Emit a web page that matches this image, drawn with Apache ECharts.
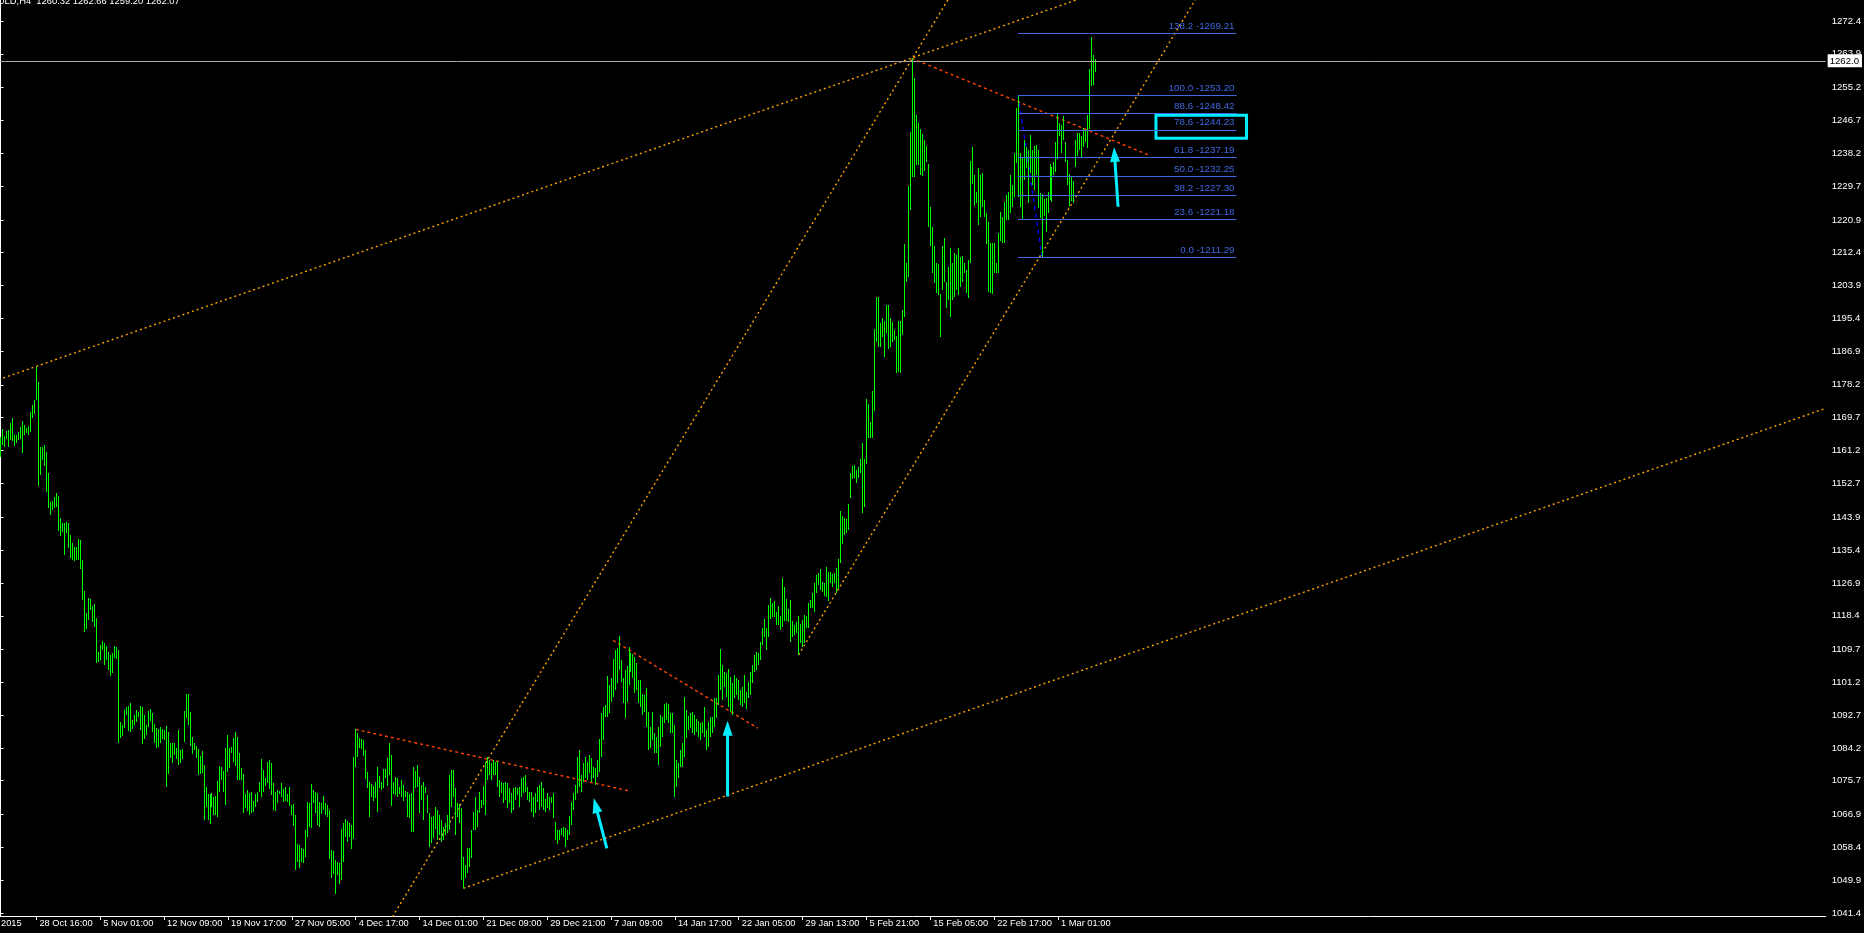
<!DOCTYPE html>
<html><head><meta charset="utf-8">
<script src="https://cdn.jsdelivr.net/npm/echarts@6/dist/echarts.min.js"></script>
<style>html,body{margin:0;padding:0;background:#000;overflow:hidden}#c{width:1864px;height:933px}</style>
</head><body><div id="c"></div>
<script>
// ---- H4 bars (high / low), bar index 0..549 ----
const highs = [
1164.6,1166.8,1164.9,1166.2,1166.5,1168.3,1169.6,1165.2,1165.2,1166.0,
1167.3,1168.8,1167.8,1167.1,1167.5,1171.2,1173.0,1174.4,1182.7,1179.0,
1162.2,1162.2,1162.6,1160.8,1155.3,1147.9,1148.1,1149.2,1150.1,1149.4,
1143.6,1142.3,1142.3,1142.8,1142.3,1139.3,1137.3,1136.3,1136.3,1138.2,
1138.0,1132.9,1124.8,1119.0,1122.9,1122.7,1120.9,1121.5,1117.8,1109.1,
1110.8,1111.9,1111.3,1110.7,1109.1,1108.2,1108.8,1110.6,1110.4,1109.5,
1091.0,1090.1,1094.0,1094.9,1095.1,1095.8,1091.4,1092.7,1094.0,1093.6,
1095.0,1094.7,1092.7,1090.1,1093.7,1094.3,1093.2,1090.4,1089.3,1089.0,
1089.5,1089.1,1088.8,1089.9,1088.4,1085.5,1085.4,1085.4,1084.1,1088.8,
1083.7,1083.8,1093.8,1098.2,1098.2,1093.6,1087.0,1085.5,1084.7,1083.9,
1082.1,1083.4,1079.7,1074.2,1072.3,1072.3,1072.6,1071.6,1071.7,1075.7,
1079.5,1079.3,1078.2,1084.3,1087.5,1084.1,1084.5,1086.8,1088.3,1087.0,
1082.8,1079.0,1077.4,1072.3,1073.3,1072.6,1072.9,1070.4,1072.3,1072.8,
1075.4,1081.3,1078.5,1076.3,1080.6,1081.1,1080.4,1075.0,1072.9,1073.3,
1073.1,1075.0,1073.6,1074.2,1072.3,1074.1,1069.4,1069.7,1066.8,1059.3,
1059.1,1058.2,1057.9,1062.9,1070.2,1070.0,1074.9,1073.3,1072.9,1072.4,
1070.3,1069.9,1071.8,1069.9,1069.4,1068.1,1057.8,1057.4,1055.2,1054.7,
1054.3,1063.2,1064.8,1065.8,1065.4,1064.7,1064.2,1081.9,1089.0,1088.0,
1086.7,1086.4,1086.2,1083.7,1078.0,1075.5,1074.9,1074.3,1075.5,1079.3,
1076.9,1075.5,1078.7,1078.7,1081.5,1085.4,1082.3,1075.3,1076.7,1076.4,
1074.2,1075.9,1074.6,1073.0,1072.9,1072.3,1072.4,1079.3,1078.2,1079.8,
1076.7,1074.6,1075.5,1074.2,1072.0,1067.3,1066.4,1066.6,1068.8,1068.1,
1066.8,1065.5,1063.8,1064.7,1066.8,1077.2,1078.5,1078.5,1073.7,1069.9,
1069.7,1068.6,1056.0,1053.9,1058.2,1058.4,1062.9,1067.7,1071.6,1068.1,
1072.9,1070.7,1074.3,1080.6,1081.9,1081.1,1080.2,1081.1,1080.6,1080.9,
1075.9,1075.5,1075.0,1075.5,1075.2,1073.7,1072.4,1073.7,1074.2,1073.7,
1074.2,1076.3,1076.7,1077.2,1074.2,1072.9,1072.9,1071.6,1072.4,1074.2,
1074.6,1075.5,1073.7,1071.1,1072.4,1071.4,1071.6,1072.6,1065.1,1062.9,
1062.9,1063.4,1063.8,1063.4,1062.9,1066.6,1070.3,1072.6,1074.6,1081.9,
1083.7,1077.2,1080.2,1081.9,1080.6,1082.3,1081.5,1079.3,1078.9,1081.1,
1086.4,1093.2,1094.9,1095.3,1102.8,1100.5,1102.2,1107.1,1109.5,1110.1,
1113.2,1106.9,1102.2,1104.4,1105.4,1110.4,1108.8,1108.5,1107.8,1106.3,
1101.9,1101.8,1098.1,1097.9,1099.6,1093.6,1089.7,1093.6,1088.0,1087.1,
1089.7,1092.7,1092.3,1095.6,1095.7,1095.6,1093.2,1093.2,1090.1,1081.1,
1080.2,1083.7,1085.4,1097.5,1094.0,1092.5,1093.2,1093.6,1092.7,1091.6,
1091.2,1090.7,1091.0,1094.9,1088.8,1091.0,1092.3,1092.1,1097.0,1097.0,
1103.1,1109.7,1105.7,1103.9,1103.7,1104.5,1102.6,1100.9,1103.1,1102.2,
1101.8,1099.2,1100.0,1103.1,1098.7,1101.3,1103.9,1105.7,1108.3,1109.1,
1108.7,1111.7,1115.2,1117.7,1115.2,1121.2,1122.9,1121.8,1122.2,1119.5,
1120.9,1118.4,1128.1,1125.8,1122.8,1120.1,1122.5,1117.1,1116.0,1116.9,
1118.4,1116.3,1117.3,1118.6,1118.4,1121.6,1122.5,1124.2,1127.0,1129.0,
1129.6,1130.4,1127.2,1126.8,1131.1,1129.8,1129.8,1129.2,1129.6,1130.7,
1133.0,1145.6,1144.2,1143.6,1143.4,1147.3,1155.3,1157.2,1157.4,1156.2,
1156.9,1158.9,1163.1,1159.0,1174.5,1173.2,1168.6,1176.7,1192.6,1200.9,
1201.0,1194.3,1195.4,1194.8,1198.9,1198.9,1195.4,1194.5,1192.4,1190.8,
1194.8,1194.8,1197.7,1214.7,1209.8,1229.7,1243.7,1262.7,1257.6,1248.1,
1245.9,1244.4,1243.1,1241.6,1240.0,1235.4,1224.2,1219.1,1214.1,1209.7,
1209.5,1201.7,1214.1,1216.3,1204.9,1208.8,1213.5,1209.8,1212.2,1211.8,
1213.5,1211.4,1211.5,1209.8,1207.9,1210.5,1236.2,1239.7,1232.5,1228.2,
1234.3,1232.5,1233.1,1226.1,1222.6,1220.3,1214.8,1215.0,1215.0,1209.7,
1217.4,1223.0,1221.7,1225.6,1227.3,1228.2,1232.5,1229.9,1238.1,1249.8,
1253.2,1238.1,1236.8,1241.6,1239.8,1239.0,1242.9,1239.0,1240.0,1240.3,
1239.0,1227.8,1227.6,1226.2,1226.5,1228.2,1235.4,1234.7,1236.0,1241.1,
1248.6,1245.9,1245.5,1247.8,1241.1,1236.4,1232.8,1232.1,1231.0,1241.6,
1243.5,1243.3,1242.6,1244.6,1244.2,1248.1,1259.9,1268.3,1263.6,1262.66
];
const lows = [
1159.6,1162.6,1162.2,1164.2,1162.2,1163.9,1163.7,1162.4,1163.1,1163.9,
1164.2,1160.6,1165.2,1165.6,1165.2,1166.1,1169.6,1170.6,1174.3,1152.0,
1154.9,1158.7,1157.2,1150.5,1146.2,1144.5,1145.8,1146.2,1146.6,1140.4,
1139.1,1140.2,1134.1,1139.8,1135.9,1133.3,1132.9,1132.7,1132.9,1132.9,
1130.5,1122.5,1114.3,1114.9,1117.3,1119.9,1116.9,1115.6,1106.3,1106.5,
1107.0,1109.5,1105.6,1107.0,1104.4,1102.9,1103.5,1107.4,1107.2,1085.5,
1086.7,1087.3,1089.3,1092.7,1088.6,1088.4,1089.0,1090.1,1091.0,1092.3,
1088.8,1085.2,1086.5,1087.5,1089.7,1091.2,1088.4,1085.4,1084.3,1084.4,
1085.5,1086.5,1086.2,1074.2,1077.4,1081.7,1080.4,1082.3,1081.3,1079.8,
1080.4,1081.3,1085.8,1092.0,1090.1,1084.7,1082.7,1083.7,1081.7,1077.2,
1077.4,1077.8,1065.5,1069.0,1065.5,1064.6,1069.0,1066.8,1066.8,1066.2,
1072.9,1075.9,1072.9,1069.5,1078.0,1078.9,1082.8,1080.6,1079.5,1075.9,
1075.9,1075.9,1067.4,1068.6,1067.9,1066.8,1067.3,1067.6,1069.0,1070.3,
1072.9,1071.6,1072.9,1074.3,1075.2,1073.6,1072.0,1068.1,1067.9,1069.9,
1072.3,1071.6,1070.3,1070.5,1070.3,1069.2,1066.8,1064.1,1052.6,1054.7,
1053.2,1054.7,1054.5,1056.0,1061.2,1063.6,1063.4,1069.9,1067.4,1064.2,
1063.8,1067.1,1068.1,1066.8,1066.2,1055.4,1050.6,1051.5,1046.4,1051.3,
1048.9,1050.0,1054.7,1061.2,1059.9,1061.2,1058.0,1060.6,1079.3,1081.9,
1084.1,1083.8,1082.2,1076.1,1073.9,1066.4,1071.6,1070.5,1071.2,1067.7,
1073.9,1073.3,1073.9,1076.5,1074.4,1077.2,1069.2,1072.3,1071.9,1071.6,
1072.3,1071.6,1070.5,1071.4,1066.4,1066.0,1062.5,1062.5,1073.7,1074.0,
1067.3,1070.7,1065.5,1072.4,1067.3,1058.6,1059.5,1060.8,1063.1,1060.4,
1061.6,1059.9,1060.4,1061.6,1062.1,1062.9,1069.0,1071.6,1061.6,1066.4,
1064.8,1050.0,1047.8,1050.4,1051.7,1053.4,1055.6,1062.9,1062.9,1063.8,
1067.3,1068.6,1069.4,1066.8,1075.9,1077.2,1075.9,1077.2,1077.2,1074.2,
1071.6,1072.4,1069.9,1070.7,1068.6,1069.9,1067.3,1068.1,1070.7,1072.0,
1069.0,1071.6,1072.4,1072.9,1070.7,1070.3,1067.7,1066.4,1067.3,1070.3,
1068.1,1069.0,1068.1,1067.7,1068.6,1068.1,1069.9,1066.0,1060.4,1059.3,
1060.4,1061.6,1061.2,1058.5,1060.4,1061.6,1064.2,1068.1,1070.7,1072.4,
1074.2,1072.9,1075.5,1076.3,1075.9,1077.6,1075.5,1076.3,1074.6,1076.7,
1078.0,1081.9,1086.2,1092.3,1092.3,1093.2,1096.2,1097.5,1099.2,1101.1,
1104.4,1101.3,1095.7,1091.9,1096.2,1100.5,1103.9,1102.2,1098.3,1099.2,
1095.7,1094.9,1092.7,1093.6,1089.7,1083.7,1084.1,1086.2,1082.8,1082.8,
1079.8,1084.5,1087.1,1090.6,1091.4,1090.6,1088.0,1088.0,1071.6,1074.2,
1076.3,1079.3,1079.3,1081.9,1086.7,1088.8,1089.3,1088.0,1087.5,1088.4,
1087.1,1086.2,1088.0,1087.1,1083.7,1084.5,1086.9,1088.0,1089.7,1091.9,
1095.3,1099.2,1096.6,1100.0,1097.5,1094.9,1093.6,1092.7,1097.0,1097.9,
1096.6,1095.3,1094.9,1095.7,1094.4,1097.0,1097.9,1100.9,1103.9,1104.4,
1105.7,1107.0,1110.8,1113.0,1109.5,1113.0,1117.7,1118.0,1118.2,1116.0,
1116.0,1114.7,1115.6,1117.1,1117.1,1116.9,1111.7,1113.0,1113.4,1114.0,
1108.3,1111.3,1110.4,1111.3,1115.2,1115.2,1120.3,1120.3,1119.5,1124.2,
1126.4,1125.1,1124.6,1123.5,1123.3,1122.3,1126.8,1125.8,1127.0,1124.4,
1125.3,1132.1,1137.0,1139.3,1139.8,1140.6,1148.8,1153.7,1154.0,1152.9,
1154.0,1155.3,1145.1,1146.5,1157.6,1164.4,1164.4,1164.4,1171.5,1189.4,
1188.1,1188.1,1190.7,1185.5,1191.5,1187.4,1188.1,1189.4,1189.8,1181.3,
1181.6,1181.3,1191.1,1195.7,1204.9,1206.2,1223.5,1231.9,1232.1,1235.1,
1235.1,1232.5,1232.3,1233.6,1236.0,1219.0,1214.1,1207.2,1204.6,1202.0,
1201.5,1190.7,1202.8,1204.9,1198.0,1200.2,1195.7,1200.2,1201.0,1202.7,
1201.5,1203.6,1204.9,1207.1,1202.0,1200.6,1209.8,1230.2,1224.5,1225.2,
1219.6,1221.7,1224.3,1221.7,1214.7,1202.3,1202.0,1201.7,1207.1,1207.1,
1207.1,1215.5,1214.8,1214.8,1220.9,1220.9,1222.6,1224.3,1226.9,1235.6,
1226.9,1224.3,1221.1,1231.2,1234.3,1225.4,1233.0,1229.9,1228.6,1232.5,
1223.9,1221.3,1211.29,1221.9,1217.8,1222.8,1226.1,1225.6,1232.5,1233.4,
1236.6,1242.6,1238.3,1241.6,1236.0,1229.9,1224.5,1225.9,1225.2,1234.7,
1237.4,1239.0,1237.1,1239.8,1241.1,1239.4,1244.4,1255.6,1255.8,1259.2
];

// ---- axis tick labels ----
const xTickLabels = ["28 Oct 16:00","5 Nov 01:00","12 Nov 09:00","19 Nov 17:00","27 Nov 05:00",
  "4 Dec 17:00","14 Dec 01:00","21 Dec 09:00","29 Dec 21:00","7 Jan 09:00","14 Jan 17:00",
  "22 Jan 05:00","29 Jan 13:00","5 Feb 21:00","15 Feb 05:00","22 Feb 17:00","1 Mar 01:00"];
const firstTickBar = 18, barsPerTick = 32;
const yTickLabels = [1272.4,1263.9,1255.2,1246.7,1238.2,1229.7,1220.9,1212.4,1203.9,1195.4,1186.9,
  1178.2,1169.7,1161.2,1152.7,1143.9,1135.4,1126.9,1118.4,1109.7,1101.2,1092.7,1084.2,1075.7,
  1066.9,1058.4,1049.9,1041.4];

// ---- header quote ----
const symbolName = "GOLD,H4";
const lastOHLC = [1260.32, 1262.66, 1259.20, 1262.07];

// ---- drawing objects (bar index, price) ----
const channelUpper = [[-1, 1179.53], [600, 1288.9]];
const channelLower = [[232, 1047.85], [915, 1172.16]];
const steepUpper = [[190, 1034.95], [480, 1282.3]];
const steepLower = [[400, 1108.3], [600, 1278.9]];
const redLineA = [[178, 1089.0], [314.75, 1073.1]];
const redLineB = [[307, 1112.06], [379.6, 1089.3]];
const redLineC = [[456.7, 1262.74], [575.4, 1237.7]];
const fibLevels = ["138.2","100.0","88.6","78.6","61.8","50.0","38.2","23.6","0.0"];
const fibPrices = [1269.21,1253.20,1248.42,1244.23,1237.19,1232.25,1227.30,1221.18,1211.29];
const fibSpan = [510, 619.5];
const fibTrend = [[510, 1253.20], [522, 1211.29]];
const arrows = [[303.9, 1058.2, 297.3, 1071.2], [364.4, 1071.6, 364.4, 1091.2], [560.1, 1224.3, 558.1, 1239.8]];
const highlightBox = [[579.1, 1248.0], [624.5, 1242.05]];

const FONT = "'Liberation Sans', Arial, sans-serif";
const CYAN = '#00eeff', ORANGE = '#ffa500', RED = '#ff4500', FIB = '#4169e1', GREEN = '#00ff00';

const tickBars = xTickLabels.map((_, k) => firstTickBar + k * barsPerTick);
const tickLabelOf = {};
tickBars.forEach((b, k) => { tickLabelOf[b] = xTickLabels[k]; });

function trend(data, color, dash) {
  return { type: 'line', data: data, showSymbol: false, symbol: 'none', silent: true, clip: true,
    lineStyle: { color: color, width: 1.4, type: dash }, z: 3, animation: false };
}

const chart = echarts.init(document.getElementById('c'), null, { renderer: 'canvas' });
chart.setOption({
  backgroundColor: '#000',
  animation: false,
  grid: { left: 0, right: 34, top: 0, bottom: 17 },
  xAxis: {
    type: 'value', min: -0.25, max: 914.75,
    axisLine: { show: true, onZero: false, lineStyle: { color: '#fff', width: 1 } },
    axisTick: { show: true, customValues: tickBars, length: 4, lineStyle: { color: '#fff' } },
    axisLabel: { customValues: tickBars, formatter: v => tickLabelOf[Math.round(v)] || '', align: 'left',
      margin: 3, padding: [0, 0, 0, 3], color: '#fff', fontSize: 9.3, fontFamily: FONT },
    splitLine: { show: false }
  },
  yAxis: {
    type: 'value', position: 'right', min: 1040.68, max: 1277.83,
    axisLine: { show: true, lineStyle: { color: '#fff', width: 1 } },
    axisTick: { show: true, customValues: yTickLabels, length: 3, lineStyle: { color: '#fff' } },
    axisLabel: { customValues: yTickLabels, formatter: v => v.toFixed(1), margin: 6, color: '#fff',
      fontSize: 9.6, fontFamily: FONT },
    splitLine: { show: false }
  },
  graphic: [
    { type: 'text', left: -10, top: -3, z: 10, silent: true,
      style: { text: symbolName + '  ' + lastOHLC.map(v => v.toFixed(2)).join(' '), fill: '#fff', font: '9.4px ' + FONT } },
    { type: 'text', left: 1, top: 919, z: 10, silent: true,
      style: { text: '2015', fill: '#fff', font: '9.3px ' + FONT } }
  ],
  series: [
    {
      type: 'custom', name: 'bars', clip: true, silent: true, z: 4,
      data: highs.map((h, i) => [i, h, lows[i]]),
      encode: { x: 0, y: [1, 2] },
      renderItem: (params, api) => {
        const i = api.value(0);
        const a = api.coord([i, api.value(1)]);
        const b = api.coord([i, api.value(2)]);
        const x = Math.round(a[0] - 0.5);
        const y1 = Math.round(a[1]);
        const y2 = Math.max(Math.round(b[1]), y1 + 1);
        return { type: 'rect', shape: { x: x, y: y1, width: 1, height: y2 - y1 }, style: { fill: GREEN } };
      },
      markLine: {
        silent: true, symbol: 'none', animation: false,
        lineStyle: { color: '#a8a8a8', type: 'solid', width: 1 },
        label: { show: true, position: 'end', distance: 2, formatter: () => lastOHLC[3].toFixed(2).slice(0, -1),
          backgroundColor: '#fff', color: '#000', padding: [2, 3, 1, 2], fontSize: 9.6, fontFamily: FONT },
        data: [{ yAxis: lastOHLC[3] }]
      }
    },
    trend(channelUpper, ORANGE, [2, 3]),
    trend(channelLower, ORANGE, [2, 3]),
    trend(steepUpper, ORANGE, [2, 3]),
    trend(steepLower, ORANGE, [2, 3]),
    trend(redLineA, RED, [3, 3]),
    trend(redLineB, RED, [3, 3]),
    trend(redLineC, RED, [3, 3]),
    Object.assign(trend(fibTrend, '#0000ff', [4, 4]), {
      markLine: {
        silent: true, symbol: 'none', animation: false,
        lineStyle: { color: FIB, type: 'solid', width: 1 },
        label: { show: true, position: 'insideEndTop', formatter: '{b}', color: FIB, fontSize: 9.8,
          fontFamily: FONT, distance: 2 },
        data: fibPrices.map((p, k) => [
          { coord: [fibSpan[0], p], name: fibLevels[k] + ' -' + p.toFixed(2) },
          { coord: [fibSpan[1], p] }])
      },
      markArea: {
        silent: true, animation: false,
        itemStyle: { color: 'rgba(0,0,0,0)', borderColor: CYAN, borderWidth: 3 },
        data: [[{ coord: highlightBox[0] }, { coord: highlightBox[1] }]]
      }
    }),
    {
      type: 'custom', name: 'arrows', silent: true, z: 6, clip: true,
      data: arrows,
      encode: { x: [0, 2], y: [1, 3] },
      renderItem: (params, api) => {
        const a = api.coord([api.value(0), api.value(1)]);
        const b = api.coord([api.value(2), api.value(3)]);
        const dx = b[0] - a[0], dy = b[1] - a[1], len = Math.hypot(dx, dy) || 1;
        const ux = dx / len, uy = dy / len, hl = 15, hw = 5;
        const cx = b[0] - ux * hl, cy = b[1] - uy * hl;
        return { type: 'group', children: [
          { type: 'line', shape: { x1: a[0], y1: a[1], x2: cx + ux, y2: cy + uy }, style: { stroke: CYAN, lineWidth: 3 } },
          { type: 'polygon', shape: { points: [[b[0], b[1]], [cx - uy * hw, cy + ux * hw], [cx + uy * hw, cy - ux * hw]] },
            style: { fill: CYAN } }
        ] };
      }
    }
  ]
});
</script>
</body></html>
